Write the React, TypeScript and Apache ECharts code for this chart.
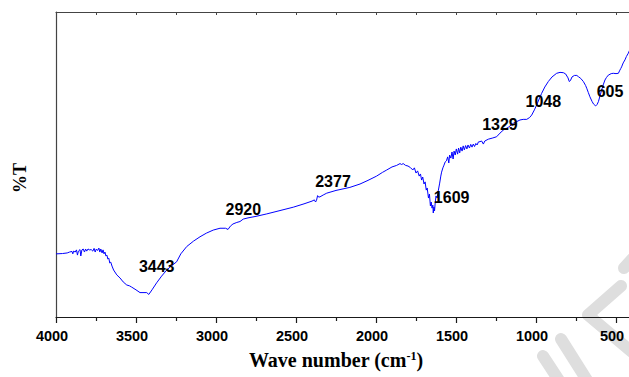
import React, { useEffect, useRef } from "react";
import * as echarts from "echarts";

// FTIR spectrum: wavenumber (cm-1) and transmittance (%T, arbitrary scale 0-100)
const wavenumbers = [
  4000, 3960, 3930, 3915, 3900, 3895, 3890, 3880, 3872, 3866, 3860, 3850, 3845, 3838,
  3830, 3822, 3815, 3808, 3800, 3790, 3780, 3770, 3762, 3755, 3748, 3740, 3732, 3726,
  3720, 3712, 3706, 3700, 3694, 3688, 3682, 3676, 3670, 3664, 3658, 3650, 3640, 3620,
  3600, 3580, 3558, 3540, 3527, 3500, 3475, 3450, 3433, 3420, 3400, 3371, 3340, 3308,
  3280, 3246, 3220, 3183, 3140, 3100, 3060, 3017, 2975, 2940, 2925, 2910, 2894, 2870,
  2850, 2830, 2800, 2750, 2683, 2600, 2517, 2450, 2400, 2385, 2378, 2372, 2365, 2358,
  2350, 2330, 2308, 2250, 2163, 2100, 2050, 1996, 1960, 1933, 1900, 1871, 1850, 1840,
  1830, 1815, 1800, 1785, 1770, 1760, 1750, 1740, 1730, 1722, 1715, 1708, 1700, 1693,
  1686, 1680, 1672, 1666, 1660, 1655, 1650, 1645, 1642, 1638, 1634, 1630, 1625, 1618,
  1610, 1602, 1595, 1590, 1582, 1575, 1568, 1560, 1552, 1545, 1540, 1532, 1525, 1518,
  1512, 1505, 1498, 1490, 1484, 1477, 1470, 1462, 1455, 1448, 1440, 1432, 1425, 1416,
  1408, 1400, 1392, 1384, 1376, 1368, 1360, 1350, 1340, 1329, 1320, 1298, 1270, 1246,
  1225, 1204, 1173, 1142, 1100, 1080, 1058, 1040, 1027, 1010, 996, 980, 965, 945,
  923, 900, 871, 850, 829, 815, 800, 792, 785, 775, 760, 745, 735, 720,
  704, 690, 683, 673, 663, 650, 640, 627, 618, 610, 600, 590, 580, 569,
  560, 548, 530, 517, 500, 485, 478, 470, 465, 455, 444, 435, 423, 415,
  410, 400,
];

const transmittance = [
  20.7, 20.8, 21.0, 21.3, 21.5, 20.7, 21.6, 21.3, 22.0, 20.3, 21.6, 22.1, 20.0, 22.0,
  22.3, 21.3, 22.3, 21.6, 22.3, 22.0, 22.1, 21.6, 22.5, 21.3, 22.3, 21.8, 22.6, 21.3,
  22.3, 21.0, 22.0, 20.7, 21.3, 20.0, 20.3, 19.0, 19.3, 17.7, 18.0, 16.7, 15.4, 13.8,
  12.8, 11.5, 10.5, 10.2, 9.8, 8.9, 8.0, 8.0, 8.0, 7.4, 8.9, 11.2, 13.4, 15.4,
  16.7, 18.1, 20.7, 23.1, 24.9, 26.3, 27.5, 28.5, 29.1, 29.1, 28.7, 29.8, 30.5, 31.0,
  31.3, 32.1, 32.5, 33.0, 33.8, 34.9, 36.0, 37.1, 38.0, 38.4, 37.7, 38.2, 39.8, 39.3,
  39.4, 40.0, 40.6, 41.5, 42.5, 43.6, 44.8, 46.2, 47.4, 48.2, 49.2, 49.7, 50.3, 50.0,
  50.3, 49.7, 49.5, 49.0, 48.2, 48.9, 47.2, 47.9, 46.2, 46.9, 44.9, 45.9, 43.6, 44.3,
  41.6, 42.3, 39.0, 40.3, 36.4, 37.7, 35.7, 36.7, 34.1, 36.1, 34.8, 37.4, 39.7, 39.0,
  41.6, 43.9, 46.2, 47.5, 48.9, 49.8, 50.8, 51.2, 52.5, 50.5, 53.1, 52.1, 54.1, 51.8,
  54.4, 53.1, 55.1, 53.4, 55.4, 53.8, 55.7, 54.4, 56.1, 54.8, 56.2, 55.1, 56.4, 55.4,
  56.6, 55.7, 56.7, 55.9, 56.9, 56.4, 57.4, 57.5, 57.7, 56.7, 57.7, 58.3, 58.7, 59.1,
  60.3, 61.3, 62.2, 63.5, 64.6, 64.8, 64.8, 65.4, 66.2, 67.9, 69.5, 71.5, 73.3, 75.4,
  77.2, 78.7, 79.9, 80.2, 80.1, 79.7, 78.4, 77.2, 77.5, 78.7, 79.2, 79.2, 78.8, 78.2,
  77.2, 75.9, 75.0, 73.6, 72.2, 70.7, 69.8, 69.2, 69.7, 70.6, 72.5, 74.4, 76.1, 77.7,
  78.5, 79.3, 79.8, 79.9, 79.8, 79.9, 80.7, 81.5, 82.0, 83.3, 84.3, 85.4, 86.5, 87.5,
  88.2, 88.9,
];

// Band assignments marked on the spectrum (cm-1)
const peakLabels = [3443, 2920, 2377, 1609, 1329, 1048, 605];

// Text placement for each band label: %T level of the text and horizontal nudge (px)
const labelLevels = [16.5, 35.3, 44.4, 39.2, 63.0, 70.6, 73.9];
const labelShiftX = [11.6, 14.5, 17.3, 13.1, 16.6, 15, 10.8];

const xTickStep = 500;
const axisFont = "'Liberation Sans', Arial, sans-serif";
const titleFont = "'Liberation Serif', 'Times New Roman', serif";

export default function App() {
  const ref = useRef<HTMLDivElement>(null);

  useEffect(() => {
    if (!ref.current) return;
    const chart = echarts.init(ref.current, null, { renderer: "svg" });

    const spectrum = wavenumbers.map((w, i) => [w, transmittance[i]]);
    const annotations = peakLabels.map((w, i) => ({
      value: [w, labelLevels[i]],
      label: { offset: [labelShiftX[i], 0] },
    }));

    const axisLineStyle = { color: "#1a1a1a", width: 1.2 };

    chart.setOption({
      animation: false,
      backgroundColor: "#ffffff",
      grid: { left: 56, right: 24, top: 12, bottom: 60, containLabel: false },
      xAxis: [
        {
          type: "value",
          inverse: true,
          min: 0,
          max: 4000,
          interval: xTickStep,
          position: "bottom",
          axisLine: { show: true, lineStyle: axisLineStyle },
          axisTick: { show: true, length: 6, inside: false, lineStyle: axisLineStyle },
          minorTick: { show: true, splitNumber: 2, length: 4, lineStyle: axisLineStyle },
          splitLine: { show: false },
          axisLabel: {
            show: true,
            margin: 11,
            padding: [0, 8, 0, 0],
            fontFamily: axisFont,
            fontWeight: "bold",
            fontSize: 14.5,
            color: "#000",
            showMaxLabel: true,
            showMinLabel: false,
            formatter: (v: number) => (v === 0 ? "" : String(v)),
          },
        },
        {
          type: "value",
          inverse: true,
          min: 0,
          max: 4000,
          interval: xTickStep,
          position: "top",
          axisLine: { show: true, onZero: false, lineStyle: { color: "#444", width: 1.2 } },
          axisTick: { show: true, inside: true, length: 3, lineStyle: { color: "#444" } },
          minorTick: { show: true, splitNumber: 2, length: 3, lineStyle: { color: "#444" } },
          splitLine: { show: false },
          axisLabel: { show: false },
        },
      ],
      yAxis: {
        type: "value",
        min: 0,
        max: 100,
        axisLine: { show: true, onZero: false, lineStyle: { color: "#444", width: 1.2 } },
        axisTick: { show: false },
        axisLabel: { show: false },
        splitLine: { show: false },
      },
      graphic: [
        {
          type: "group",
          z: -10,
          silent: true,
          children: [
            {
              type: "polyline",
              shape: { points: [[621, 286], [588, 315], [632, 352]] },
              style: { stroke: "#dedede", lineWidth: 12, lineCap: "round", lineJoin: "round", fill: null },
            },
            {
              type: "polyline",
              shape: { points: [[561, 339], [590, 385]] },
              style: { stroke: "#dedede", lineWidth: 12, lineCap: "round", fill: null },
            },
            {
              type: "polyline",
              shape: { points: [[543, 356], [562, 385]] },
              style: { stroke: "#dedede", lineWidth: 12, lineCap: "round", fill: null },
            },
            {
              type: "polyline",
              shape: { points: [[624, 268], [645, 245]] },
              style: { stroke: "#dedede", lineWidth: 12, lineCap: "round", fill: null },
            },
          ],
        },
        {
          type: "text",
          x: 336,
          y: 360,
          style: {
            text: "{m|Wave number (cm}{s|-1}{m|)}",
            align: "center",
            verticalAlign: "middle",
            fill: "#000",
            rich: {
              m: { fontFamily: titleFont, fontWeight: "bold", fontSize: 20, fill: "#000" },
              s: {
                fontFamily: titleFont,
                fontWeight: "bold",
                fontSize: 12,
                fill: "#000",
                verticalAlign: "top",
                padding: [0, 0, 8, 0],
              },
            },
          },
        },
        {
          type: "text",
          x: 20,
          y: 178,
          rotation: Math.PI / 2,
          style: {
            text: "%T",
            align: "center",
            verticalAlign: "middle",
            fontFamily: titleFont,
            fontWeight: "bold",
            fontSize: 18,
            fill: "#000",
          },
        },
      ],
      series: [
        {
          type: "line",
          xAxisIndex: 0,
          data: spectrum,
          showSymbol: false,
          symbol: "none",
          lineStyle: { color: "#0000ff", width: 1 },
          z: 3,
        },
        {
          type: "scatter",
          xAxisIndex: 0,
          data: annotations,
          symbolSize: 0,
          silent: true,
          z: 4,
          itemStyle: { opacity: 1 },
          label: {
            show: true,
            position: "inside",
            opacity: 1,
            fontFamily: axisFont,
            fontWeight: "bold",
            fontSize: 16,
            color: "#000",
            formatter: (p: any) => String(p.value[0]),
          },
        },
      ],
    });

    return () => chart.dispose();
  }, []);

  return (
    <div
      style={{
        position: "fixed",
        left: 0,
        top: 0,
        width: 629,
        height: 377,
        overflow: "hidden",
        background: "#fff",
      }}
    >
      <div ref={ref} style={{ width: 720, height: 377 }} />
    </div>
  );
}
